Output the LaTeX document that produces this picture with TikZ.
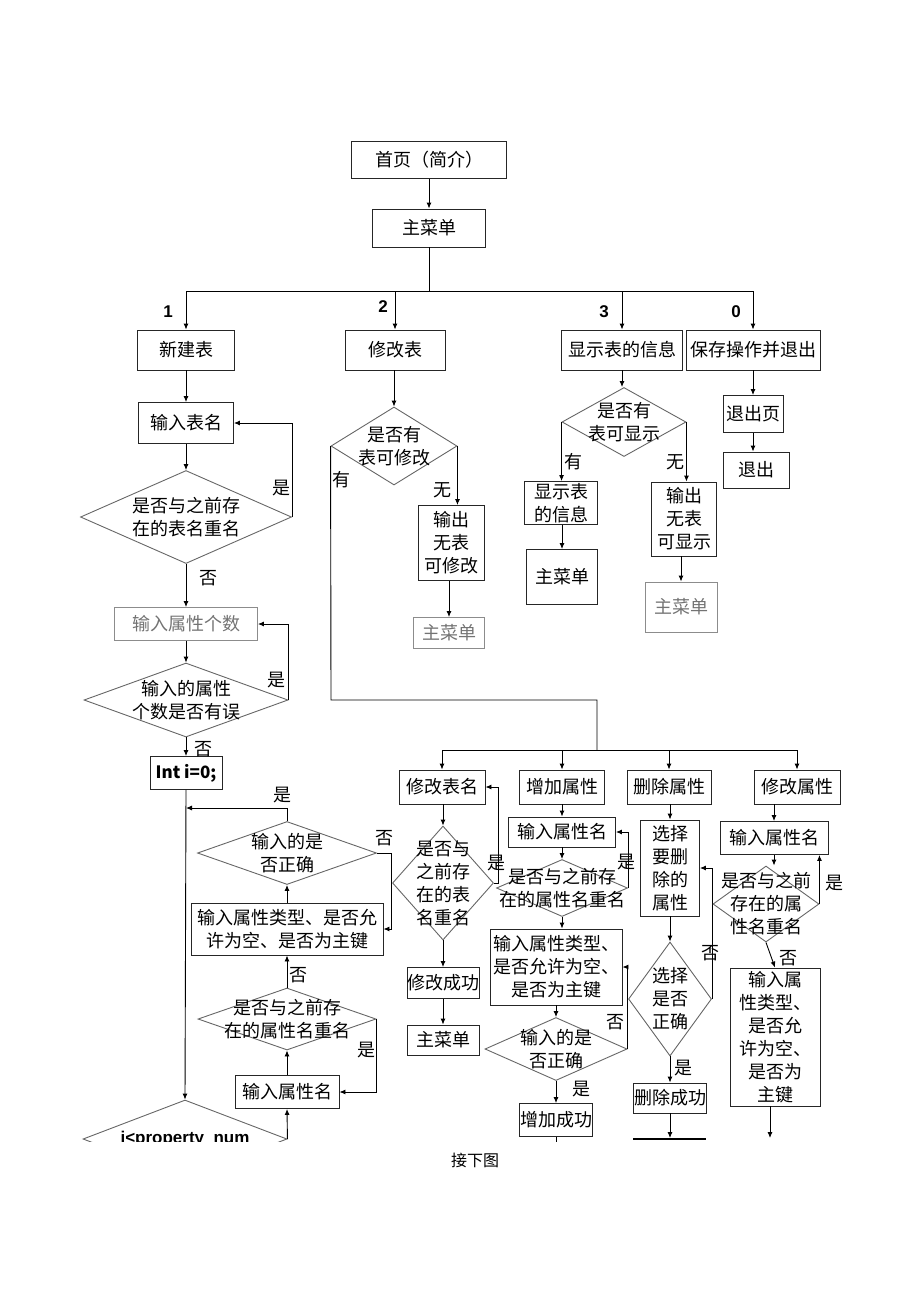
\documentclass[tikz,border=0pt]{standalone}
\usepackage{fontspec}
\setmainfont{Liberation Sans}
\newfontfamily\cjk{Noto Sans CJK SC}
\usetikzlibrary{arrows.meta,shapes.geometric}
\newcommand\cnfont{\cjk\fontsize{18}{23}\selectfont}

\begin{document}
\begin{tikzpicture}
  [x=1pt,y=-1pt,line width=0.9pt,>={Latex[length=6pt,width=5pt]},
   every node/.style={font=\cnfont,inner sep=0pt,align=center},
   box/.style={draw=black!85,line width=0.9pt,rectangle},
   dia/.style={draw=black!60,line width=0.9pt,diamond},
   pale/.style={draw=black!45,text=black!55},
   num/.style={font=\fontsize{17}{20}\selectfont\bfseries}]
  \useasboundingbox (0,0) rectangle (920,1302);

  % top
  \node[box,minimum width=155,minimum height=37] (home) at (429,160) {首页（简介）};
  \node[box,minimum width=113,minimum height=38] (menu) at (429,228) {主菜单};
  \draw[->] (home) -- (menu);

  \coordinate (j0) at (429,291);
  \coordinate (b1) at (186,291);
  \coordinate (b2) at (395,291);
  \coordinate (b3) at (622,291);
  \coordinate (b4) at (753,291);
  \draw (menu) -- (j0);
  \draw (b1) -- (b4);

  \node[box,minimum width=97,minimum height=40] (newt) at (186,350) {新建表};
  \node[box,minimum width=100,minimum height=40] (modt) at (395,350) {修改表};
  \node[box,minimum width=121,minimum height=40] (showt) at (622,350) {显示表的信息};
  \node[box,minimum width=134,minimum height=40] (savex) at (753,350) {保存操作并退出};
  \foreach \b/\n in {b1/newt,b2/modt,b3/showt,b4/savex}
    \draw[->] (\b) -- (\b |- \n.north);
  \node[num] (n1) at (168,312) {1};
  \node[num] (n2) at (383,307) {2};
  \node[num] (n3) at (604,312) {3};
  \node[num] (n0) at (736,312) {0};

  % new table
  \node[box,minimum width=95,minimum height=41] (tname) at (186,423) {输入表名};
  \node[dia,minimum width=211,minimum height=93] (q1) at (186,517) {};
  \node (q1t) at (q1) {是否与之前存\\在的表名重名};
  \node[box,pale,minimum width=143,minimum height=33] (acnt) at (186,624) {输入属性个数};
  \node[dia,minimum width=204,minimum height=74] (q2) at (186,700) {};
  \node (q2t) at (q2) {输入的属性\\个数是否有误};
  \node[box,minimum width=72,minimum height=33] (init) at (186,773) {\fontsize{17}{20}\selectfont\bfseries Int i=0;};
  \draw[->] (newt) -- (tname);
  \draw[->] (tname) -- (q1);
  \draw[->] (q1.east) |- (tname.east);
  \draw[->] (q1.south) -- (acnt.north);
  \draw[->] (acnt) -- (q2);
  \draw[->] (q2.east) |- (acnt.east);
  \draw[->] (q2.south) -- (init.north);
  \node (y1) at (281,488) {是};
  \node (f1) at (208,578) {否};
  \node (y2) at (276,680) {是};
  \node (f2) at (203,749) {否};

  % attribute loop
  \node[dia,minimum width=179,minimum height=63] (q3) at (287,853) {};
  \node (q3t) at (q3) {输入的是\\否正确};
  \node[box,minimum width=192,minimum height=52] (attr) at (287,929) {输入属性类型、是否允\\许为空、是否为主键};
  \node[dia,minimum width=178,minimum height=62] (q4) at (287,1019) {};
  \node (q4t) at (q4) {是否与之前存\\在的属性名重名};
  \node[box,minimum width=104,minimum height=33] (aname) at (287,1092) {输入属性名};
  \begin{scope}
    \clip (0,0) rectangle (920,1141);
    \node[dia,minimum width=204,minimum height=78] (q5) at (185,1139) {};
    \node[num] (q5t) at (q5) {i<property\_num};
  \end{scope}
  \coordinate (m1) at (186,808);
  \draw[->] (init.south) -- (q5.north);
  \draw[->] (q3.north) |- (m1);
  \draw[->] (q3.east) -- ++(14,0) |- (attr.east);
  \draw[->] (attr) -- (q3);
  \draw[->] (q4) -- (attr);
  \draw[->] (q4.east) |- (aname.east);
  \draw[->] (aname) -- (q4);
  \draw[->] (q5.east) -- (aname.south);
  \node (y3) at (282,795) {是};
  \node (f3) at (384,838) {否};
  \node (f4) at (298,975) {否};
  \node (y4) at (366,1050) {是};

  % modify table
  \node[dia,minimum width=126,minimum height=78] (q6) at (394,446) {};
  \node (q6t) at (q6) {是否有\\表可修改};
  \node[box,minimum width=66,minimum height=75] (nomod) at (451,543) {输出\\无表\\可修改};
  \node[box,pale,minimum width=71,minimum height=31] (menu2) at (449,633) {主菜单};
  \draw[->] (modt.south -| q6) -- (q6.north);
  \draw[->] (q6.east) -- (q6.east |- nomod.north);
  \draw[->] (nomod.south -| menu2) -- (menu2.north);
  \node (h1) at (341,480) {有};
  \node (w1) at (442,490) {无};

  % show table
  \node[dia,minimum width=124,minimum height=69] (q7) at (624,422) {};
  \node (q7t) at (q7) {是否有\\表可显示};
  \node[box,minimum width=73,minimum height=43] (showi) at (561,503) {显示表\\的信息};
  \node[box,minimum width=65,minimum height=74] (noshow) at (684,519) {输出\\无表\\可显示};
  \node[box,minimum width=71,minimum height=55] (menu3) at (562,577) {主菜单};
  \node[box,pale,minimum width=72,minimum height=50] (menu4) at (681,607) {主菜单};
  \draw[->] (showt.south) -- (showt.south |- q7.north);
  \draw[->] (q7.west) -- (q7.west |- showi.north);
  \draw[->] (q7.east) -- (q7.east |- noshow.north);
  \draw[->] (showi.south -| menu3) -- (menu3.north);
  \draw[->] (noshow.south -| menu4) -- (menu4.north);
  \node (h2) at (573,462) {有};
  \node (w2) at (675,462) {无};

  % save and quit
  \node[box,minimum width=60,minimum height=37] (quitp) at (753,414) {退出页};
  \node[box,minimum width=66,minimum height=36] (quit) at (756,470) {退出};
  \draw[->] (savex) -- (quitp);
  \draw[->] (quitp.south) -- (quitp.south |- quit.north);

  % modify menu
  \coordinate (c1) at (331,700);
  \coordinate (c2) at (597,700);
  \coordinate (c3) at (597,750);
  \coordinate (d1) at (442,750);
  \coordinate (d2) at (562,750);
  \coordinate (d3) at (669,750);
  \coordinate (d4) at (797,750);
  \draw (q6.west) -- (c1) -- (c2) -- (c3);
  \draw (d1) -- (d4);
  \node[box,minimum width=86,minimum height=34] (rname) at (442,787) {修改表名};
  \node[box,minimum width=85,minimum height=34] (addp) at (562,787) {增加属性};
  \node[box,minimum width=84,minimum height=34] (delp) at (669,787) {删除属性};
  \node[box,minimum width=86,minimum height=34] (chgp) at (797,787) {修改属性};
  \foreach \d/\n in {d1/rname,d2/addp,d3/delp,d4/chgp}
    \draw[->] (\d) -- (\d |- \n.north);

  % rename
  \node[dia,minimum width=101,minimum height=114] (q8) at (443,883) {};
  \node (q8t) at (q8) {是否与\\之前存\\在的表\\名重名};
  \node[box,minimum width=72,minimum height=31] (rok) at (443,983) {修改成功};
  \node[box,minimum width=72,minimum height=30] (menu5) at (443,1040) {主菜单};
  \draw[->] (rname.south -| q8) -- (q8.north);
  \draw[->] (q8.east) -- ++(4,0) |- (rname.east);
  \draw[->] (q8) -- (rok);
  \draw[->] (rok) -- (menu5);
  \node (y5) at (496,863) {是};

  % add attribute
  \node[box,minimum width=107,minimum height=30] (aname2) at (562,832) {输入属性名};
  \node[dia,minimum width=131,minimum height=57] (q9) at (562,888) {};
  \node (q9t) at (q9) {是否与之前存\\在的属性名重名};
  \node[box,minimum width=132,minimum height=76] (attr2) at (556,967) {输入属性类型、\\是否允许为空、\\是否为主键};
  \node[dia,minimum width=142,minimum height=63] (q10) at (556,1049) {};
  \node (q10t) at (q10) {输入的是\\否正确};
  \node[box,minimum width=73,minimum height=33] (addok) at (556,1120) {增加成功};
  \coordinate (e1) at (556,1142);
  \draw[->] (addp) -- (aname2);
  \draw[->] (aname2) -- (q9);
  \draw[->] (q9.east) |- (aname2.east);
  \draw[->] (q9.south) -- (q9.south |- attr2.north);
  \draw[->] (attr2) -- (q10);
  \draw[->] (q10.east) |- (attr2.east);
  \draw[->] (q10) -- (addok);
  \draw (addok) -- (e1);
  \node (y6) at (626,862) {是};
  \node (f6) at (615,1022) {否};
  \node (y7) at (581,1089) {是};

  % delete attribute
  \node[box,minimum width=59,minimum height=96] (selp) at (670,868) {选择\\要删\\除的\\属性};
  \node[dia,minimum width=83,minimum height=114] (q11) at (670,999) {};
  \node (q11t) at (q11) {选择\\是否\\正确};
  \node[box,minimum width=73,minimum height=30] (delok) at (670,1098) {删除成功};
  \coordinate (e2) at (670,1138);
  \coordinate (e2a) at (633,1139);
  \coordinate (e2b) at (706,1139);
  \draw[->] (delp.south -| selp) -- (selp.north);
  \draw[->] (selp) -- (q11);
  \draw[->] (q11.east) |- (selp.east);
  \draw[->] (q11) -- (delok);
  \draw[->] (delok) -- (e2);
  \draw[line width=1.8pt] (e2a) -- (e2b);
  \node (f7) at (710,953) {否};
  \node (y8) at (683,1068) {是};

  % change attribute
  \node[box,minimum width=108,minimum height=33] (aname3) at (774,838) {输入属性名};
  \node[dia,minimum width=106,minimum height=76] (q12) at (766,904) {};
  \node (q12t) at (q12) {是否与之前\\存在的属\\性名重名};
  \node[box,minimum width=90,minimum height=138] (chgattr) at (775,1037) {输入属\\性类型、\\是否允\\许为空、\\是否为\\主键};
  \coordinate (e3) at (770,1138);
  \draw[->] (chgp.south -| aname3) -- (aname3.north);
  \draw[->] (aname3.south) -- (aname3.south |- q12.north);
  \draw[->] (q12.east) -- (q12.east |- aname3.south);
  \draw[->] (q12.south) -- (chgattr.north);
  \draw[->] (e3 |- chgattr.south) -- (e3);
  \node (y9) at (834,883) {是};
  \node (f8) at (788,958) {否};

  \node[font=\cjk\fontsize{16}{20}\selectfont] (next) at (475,1160) {接下图};
\end{tikzpicture}
\end{document}
